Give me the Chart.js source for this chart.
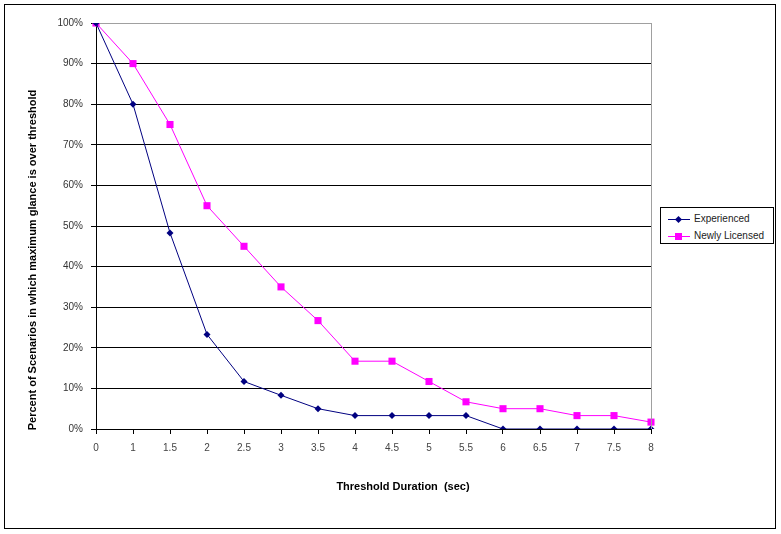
<!DOCTYPE html>
<html>
<head>
<meta charset="utf-8">
<script src="https://cdn.jsdelivr.net/npm/chart.js@4"></script>
<style>
  body { margin: 0; background: #fff; }
  #wrap { position: relative; width: 781px; height: 534px; }
  #legend {
    position: absolute; left: 660px; top: 207px; width: 112px; height: 35px;
    border: 1px solid #000; background: #fff;
    font: 10px Arial, "Liberation Sans", sans-serif; color: #222;
  }
  .row { position: absolute; left: 0; height: 14px; line-height: 14px; white-space: nowrap; }
  .sw { position: absolute; left: 7px; top: 7px; width: 22px; height: 1px; }
  .mk { position: absolute; }
  .lbl { position: absolute; left: 33px; top: 0; }
</style>
</head>
<body>
<div id="wrap">
  <canvas id="glanceChart" width="781" height="534"></canvas>
  <div id="legend"></div>
</div>
<script>
// données
const thresholds = ['0', '1', '1.5', '2', '2.5', '3', '3.5', '4', '4.5', '5', '5.5', '6', '6.5', '7', '7.5', '8'];
const experienced = [100, 80, 48.3, 23.3, 11.7, 8.3, 5, 3.3, 3.3, 3.3, 3.3, 0, 0, 0, 0, 0];
const newlyLicensed = [100, 90, 75, 55, 45, 35, 26.7, 16.7, 16.7, 11.7, 6.7, 5, 5, 3.3, 3.3, 1.7];
const seriesNames = ['Experienced', 'Newly Licensed'];
const yTicks = [0, 10, 20, 30, 40, 50, 60, 70, 80, 90, 100];

const navy = '#000080';
const magenta = '#FF00FF';
const tickFont = { family: 'Arial, "Liberation Sans", sans-serif', size: 10 };

// cadre extérieur, bord droit de la zone de tracé, titres des axes
const decorations = {
    id: 'decorations',
    afterDraw(chart) {
        const ctx = chart.ctx;
        const area = chart.chartArea;
        ctx.save();
        ctx.strokeStyle = '#000';
        ctx.lineWidth = 1;
        ctx.strokeRect(4.5, 4.5, 771, 524);
        ctx.strokeStyle = '#a0a0a0';
        ctx.beginPath();
        ctx.moveTo(Math.round(area.right) + 0.5, area.top);
        ctx.lineTo(Math.round(area.right) + 0.5, area.bottom);
        ctx.stroke();

        ctx.fillStyle = '#000';
        ctx.font = 'bold 11px Arial, "Liberation Sans", sans-serif';
        ctx.textAlign = 'center';
        ctx.textBaseline = 'middle';
        ctx.fillText('Threshold Duration  (sec)', 403, 487);
        ctx.translate(33, 260);
        ctx.rotate(-Math.PI / 2);
        ctx.fillText('Percent of Scenarios in which maximum glance is over threshold', 0, 0);
        ctx.restore();
    }
};

const ctx = document.getElementById('glanceChart').getContext('2d');
new Chart(ctx, {
    type: 'line',
    data: {
        labels: thresholds,
        datasets: [
            {
                label: seriesNames[0],
                data: experienced,
                borderColor: navy,
                backgroundColor: navy,
                borderWidth: 1,
                pointStyle: 'rectRot',
                pointRadius: 3.5,
                pointBorderWidth: 0,
                tension: 0
            },
            {
                label: seriesNames[1],
                data: newlyLicensed,
                borderColor: magenta,
                backgroundColor: magenta,
                borderWidth: 1,
                pointStyle: 'rect',
                pointRadius: 5,
                pointBorderWidth: 0,
                tension: 0
            }
        ]
    },
    options: {
        responsive: false,
        animation: false,
        devicePixelRatio: 1,
        layout: {
            padding: { top: 23, left: 36, right: 130, bottom: 0 }
        },
        plugins: {
            legend: { display: false },
            tooltip: { enabled: false }
        },
        scales: {
            x: {
                offset: false,
                grid: {
                    drawOnChartArea: false,
                    drawTicks: true,
                    tickLength: 5,
                    tickColor: '#000'
                },
                border: { color: '#000' },
                ticks: {
                    font: tickFont,
                    color: '#444',
                    padding: 8,
                    maxRotation: 0,
                    autoSkip: false
                },
                afterFit: function(scale) {
                    scale.height = 105;
                }
            },
            y: {
                min: 0,
                max: 100,
                afterBuildTicks: function(scale) {
                    scale.ticks = yTicks.map(v => ({ value: v }));
                },
                grid: {
                    color: c => (c.tick && c.tick.value === 100) ? '#a0a0a0' : '#000',
                    tickColor: '#000',
                    tickLength: 5
                },
                border: { color: '#000' },
                ticks: {
                    font: tickFont,
                    color: '#333',
                    padding: 8,
                    callback: function(value) {
                        return value + '%';
                    }
                },
                afterFit: function(scale) {
                    scale.width = 60;
                }
            }
        }
    },
    plugins: [decorations]
});

// légende HTML avec trait + marqueur
const legend = document.getElementById('legend');
[[seriesNames[0], navy, 'diamond'], [seriesNames[1], magenta, 'square']].forEach(function(item, i) {
    const row = document.createElement('div');
    row.className = 'row';
    row.style.top = (4 + i * 17) + 'px';
    row.style.width = '112px';
    const sw = document.createElement('span');
    sw.className = 'sw';
    sw.style.background = item[1];
    const mk = document.createElement('span');
    mk.className = 'mk';
    mk.style.background = item[1];
    if (item[2] === 'diamond') {
        mk.style.width = '5px'; mk.style.height = '5px';
        mk.style.left = '8px'; mk.style.top = '-2px';
        mk.style.transform = 'rotate(45deg)';
    } else {
        mk.style.width = '7px'; mk.style.height = '7px';
        mk.style.left = '7px'; mk.style.top = '-3px';
    }
    sw.appendChild(mk);
    const lbl = document.createElement('span');
    lbl.className = 'lbl';
    lbl.textContent = item[0];
    row.appendChild(sw);
    row.appendChild(lbl);
    legend.appendChild(row);
});
</script>
</body>
</html>
